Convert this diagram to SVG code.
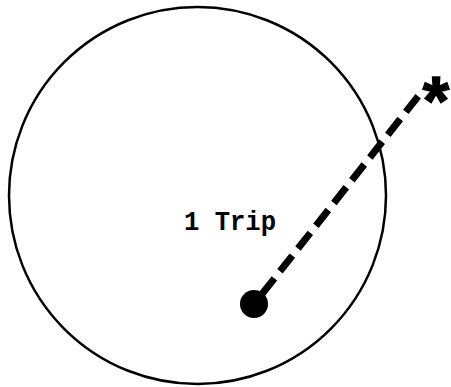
<svg xmlns="http://www.w3.org/2000/svg" width="451" height="387" viewBox="0 0 451 387">
<style>
.ring{fill:none;stroke:#000;stroke-width:2.5}
.conn{fill:none;stroke:#000;stroke-width:7;stroke-dasharray:20 9}
.lbl{font-family:"Liberation Mono","DejaVu Sans Mono",monospace;font-weight:bold;fill:#000}
.star{font-family:"Liberation Sans",Arial,sans-serif;font-weight:bold;fill:#000;stroke:#000;stroke-width:1.5}
</style>
<rect width="451" height="387" fill="#fff"/>
<g id="area">
<circle class="ring" cx="197.5" cy="195.5" r="188.5"/>
<text class="lbl" x="184" y="230" font-size="27" textLength="92" lengthAdjust="spacingAndGlyphs">1 Trip</text>
</g>
<g id="connectors">
<line class="conn" x1="262" y1="294" x2="420" y2="94"/>
</g>
<g id="origin">
<circle cx="254" cy="304" r="14" fill="#000"/>
</g>
<g id="destination">
<text class="star" x="436" y="124" font-size="68" text-anchor="middle">*</text>
</g>
</svg>
